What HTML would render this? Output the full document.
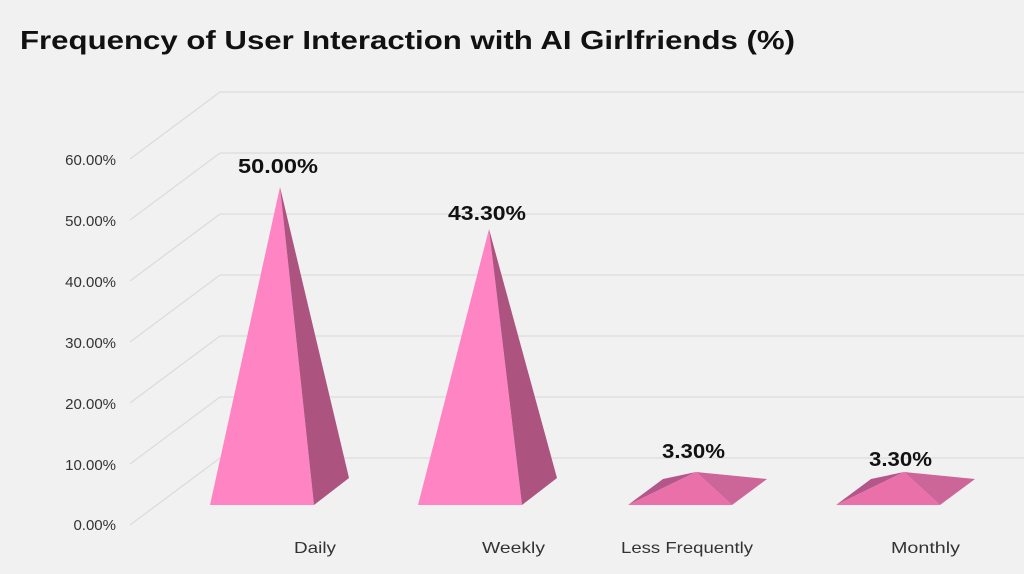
<!DOCTYPE html>
<html><head><meta charset="utf-8"><style>
body{margin:0;background:#f2f1f1;}
svg{display:block;font-family:"Liberation Sans",sans-serif;}
</style></head><body>
<svg width="1024" height="574" viewBox="0 0 1024 574">
<rect width="1024" height="574" fill="#f2f1f1"/>
<text x="20" y="49" font-size="26" font-weight="bold" fill="#111" textLength="775" lengthAdjust="spacingAndGlyphs">Frequency of User Interaction with AI Girlfriends (%)</text>
<g stroke="#dcdcdc" stroke-width="1.3" fill="none">
<path d="M220 92H1024M220 92L130 159"/>
<path d="M220 153H1024M220 153L130 220"/>
<path d="M220 214H1024M220 214L130 281"/>
<path d="M220 275H1024M220 275L130 342"/>
<path d="M220 336H1024M220 336L130 403"/>
<path d="M220 397H1024M220 397L130 464"/>
<path d="M220 458H1024M220 458L130 525"/>
</g>
<g font-size="15" fill="#333" text-anchor="end">
<text x="116" y="165">60.00%</text>
<text x="116" y="226">50.00%</text>
<text x="116" y="287">40.00%</text>
<text x="116" y="348">30.00%</text>
<text x="116" y="409">20.00%</text>
<text x="116" y="470">10.00%</text>
<text x="116" y="530">0.00%</text>
</g>
<polygon points="210,505 314,505 280,187" fill="#fe84c3"/>
<polygon points="314,505 349,478 280,187" fill="#ad5380"/>
<polygon points="418,505 522,505 489,229" fill="#fe84c3"/>
<polygon points="522,505 557,478 489,229" fill="#ad5380"/>
<polygon points="628,505 663,479 696,472" fill="#b3568a"/>
<polygon points="732,505 767,479 696,472" fill="#cc6598"/>
<polygon points="628,505 732,505 696,472" fill="#ea70aa"/>
<polygon points="836,505 871,479 904,472" fill="#b3568a"/>
<polygon points="940,505 975,479 904,472" fill="#cc6598"/>
<polygon points="836,505 940,505 904,472" fill="#ea70aa"/>
<g font-size="20" font-weight="bold" fill="#111">
<text x="238" y="173" textLength="80" lengthAdjust="spacingAndGlyphs">50.00%</text>
<text x="448" y="220" textLength="78" lengthAdjust="spacingAndGlyphs">43.30%</text>
<text x="662" y="458" textLength="63" lengthAdjust="spacingAndGlyphs">3.30%</text>
<text x="869" y="466" textLength="63" lengthAdjust="spacingAndGlyphs">3.30%</text>
</g>
<g font-size="16" fill="#333">
<text x="294" y="553" textLength="42" lengthAdjust="spacingAndGlyphs">Daily</text>
<text x="482" y="553" textLength="63" lengthAdjust="spacingAndGlyphs">Weekly</text>
<text x="621" y="553" textLength="132" lengthAdjust="spacingAndGlyphs">Less Frequently</text>
<text x="891" y="553" textLength="69" lengthAdjust="spacingAndGlyphs">Monthly</text>
</g>
</svg>
</body></html>
